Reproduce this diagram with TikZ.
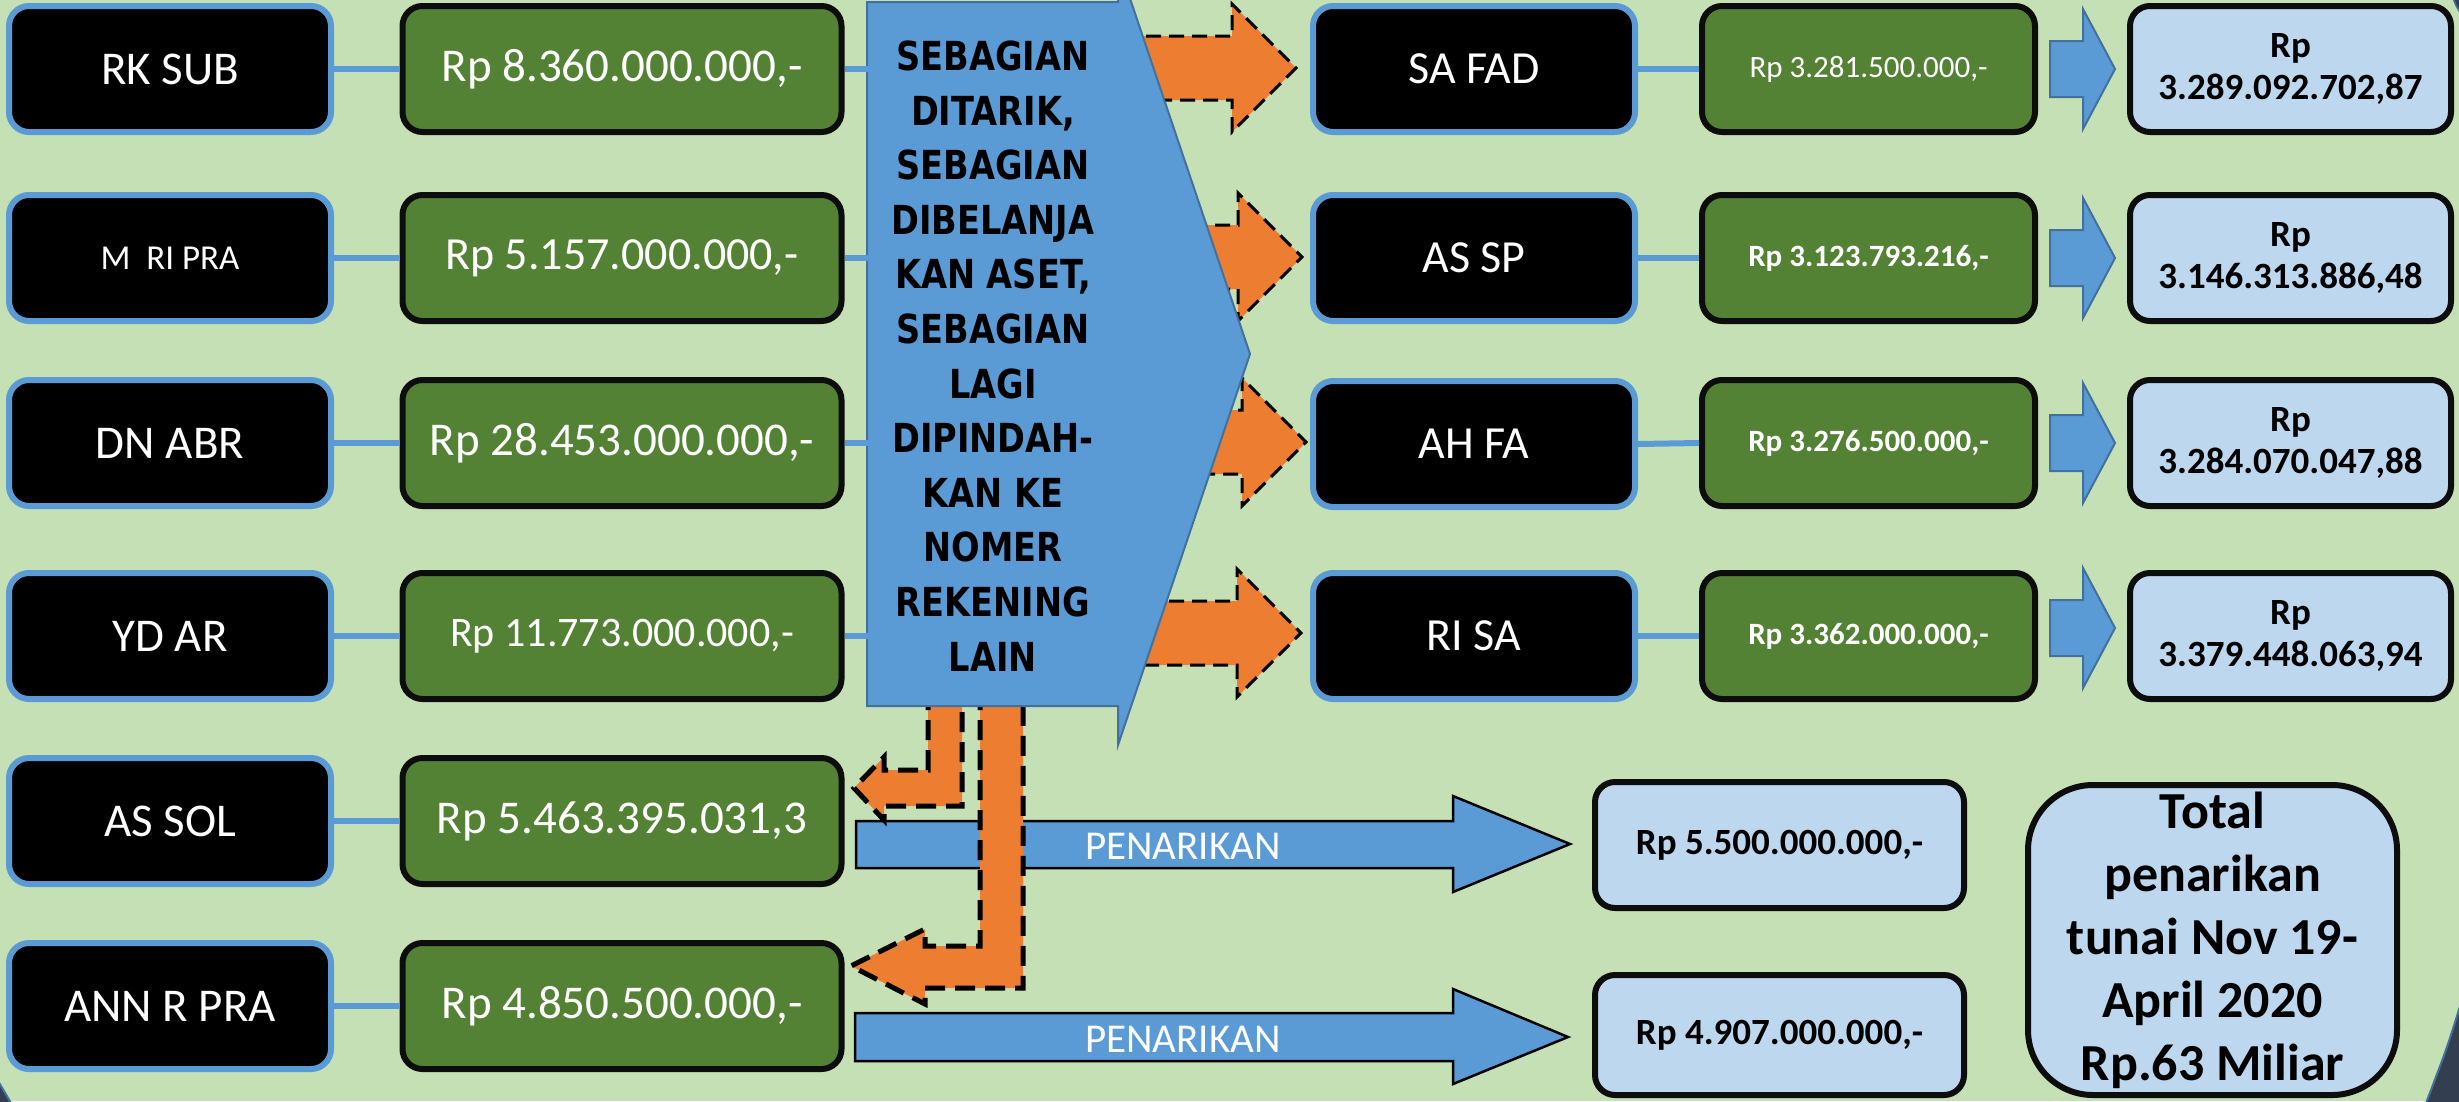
\documentclass[tikz,border=0pt]{standalone}
\usepackage{fontspec}
\setmainfont{Carlito}
\newfontfamily\chevfont{DejaVu Sans}[FakeStretch=0.84]
\definecolor{bg}{HTML}{C5E0B4}
\definecolor{dgreen}{HTML}{548235}
\definecolor{bblue}{HTML}{5B9BD5}
\definecolor{lblue}{HTML}{BDD7EE}
\definecolor{oran}{HTML}{ED7D31}
\definecolor{navy}{HTML}{333F50}
\definecolor{edgeblue}{HTML}{41719C}
\definecolor{nearblack}{HTML}{0D0D0D}
\newcommand\OrArrow[4]{% x0, xhead, xtip, yc
  \filldraw[orarrow] (#1,#4-32) -- (#2,#4-32) -- (#2,#4-64) -- (#3,#4) -- (#2,#4+64) -- (#2,#4+32) -- (#1,#4+32) -- cycle;}
\newcommand\BlArrow[4]{% x0, xhead, xtip, yc
  \filldraw[smallarrow] (#1,#4-28) -- (#2,#4-28) -- (#2,#4-60) -- (#3,#4) -- (#2,#4+60) -- (#2,#4+28) -- (#1,#4+28) -- cycle;}
\tikzset{
  namebox/.style={rectangle, rounded corners=20pt, fill=black, draw=bblue, line width=6pt,
    minimum width=322pt, minimum height=126pt, inner sep=0pt, text=white, font=\fontsize{47}{56}\selectfont},
  amtbox/.style={rectangle, rounded corners=20pt, fill=dgreen, draw=nearblack, line width=6pt,
    minimum width=439pt, minimum height=126pt, inner sep=0pt, text=white, font=\fontsize{47}{56}\selectfont},
  ramtbox/.style={amtbox, minimum width=333pt},
  resbox/.style={rectangle, rounded corners=20pt, fill=lblue, draw=nearblack, line width=6pt,
    minimum width=321pt, minimum height=126pt, inner sep=0pt, text=black, align=center,
    font=\bfseries\fontsize{37}{42}\selectfont},
  wbox/.style={resbox, minimum width=369pt},
  link/.style={draw=bblue, line width=6pt},
  orarrow/.style={fill=oran, draw=black, line width=3pt, dash pattern=on 15pt off 8pt},
  bentarrow/.style={fill=oran, draw=black, line width=5pt, dash pattern=on 20pt off 10pt},
  smallarrow/.style={fill=bblue, draw=edgeblue, line width=2pt},
  bigarrow/.style={fill=bblue, draw=black, line width=2.5pt},
  arrowlabel/.style={text=white, inner sep=0pt, font=\fontsize{41}{49}\selectfont}
}
\begin{document}
\begin{tikzpicture}[x=1pt,y=-1pt]
\useasboundingbox (0,0) rectangle (2459,1101);
\clip (0,0) rectangle (2459,1101);
\fill[bg] (0,0) rectangle (2459,1101);
% slide corners
\filldraw[fill=navy, draw=edgeblue, line width=2pt] (2461,1003) .. controls (2447,1048) .. (2426,1103) -- (2461,1103) -- cycle;
\filldraw[fill=navy, draw=edgeblue, line width=2pt] (-2,1081) .. controls (4,1091) .. (11,1103) -- (-2,1103) -- cycle;
\filldraw[fill=navy, draw=edgeblue, line width=1.5pt] (2453,-2) .. controls (2456,6) .. (2461,14) -- (2461,-2) -- cycle;

% left column
\node[namebox] (k1) at (170,69) {RK SUB};
\node[namebox, font=\fontsize{35}{42}\selectfont] (k2) at (170,258) {M\ \ RI PRA};
\node[namebox] (k3) at (170,443) {DN ABR};
\node[namebox] (k4) at (170,636) {YD AR};
\node[namebox] (k5) at (170,821) {AS SOL};
\node[namebox] (k6) at (170,1006) {ANN R PRA};

\node[amtbox] (g1) at (622,69) {Rp 8.360.000.000,-};
\node[amtbox, font=\fontsize{46}{55}\selectfont] (g2) at (622,258) {Rp 5.157.000.000,-};
\node[amtbox] (g3) at (622,443) {Rp 28.453.000.000,-};
\node[amtbox, font=\fontsize{42}{50}\selectfont] (g4) at (622,636) {Rp 11.773.000.000,-};
\node[amtbox] (g5) at (622,821) {Rp 5.463.395.031,3};
\node[amtbox] (g6) at (622,1006) {Rp 4.850.500.000,-};

\foreach \i in {1,...,6} { \draw[link] (k\i.east) -- (g\i.west); }

% withdrawal arrows
\filldraw[bigarrow] (856,821) -- (1453,821) -- (1453,796) -- (1570,844) -- (1453,892) -- (1453,868) -- (856,868) -- cycle;
\filldraw[bigarrow] (855,1013) -- (1453,1013) -- (1453,989) -- (1568,1037) -- (1453,1084) -- (1453,1061) -- (855,1061) -- cycle;
\node[arrowlabel] (p1) at (1183,846) {PENARIKAN};
\node[arrowlabel] (p2) at (1183,1039) {PENARIKAN};

% orange arrows to the right
\OrArrow{1100}{1232}{1296}{68}
\OrArrow{1100}{1238}{1302}{257}
\OrArrow{1100}{1242}{1306}{442}
\OrArrow{1100}{1237}{1301}{633}

% orange bent arrows
\filldraw[bentarrow] (928,690) -- (928,770) -- (884,770) -- (884,757) -- (854,788) -- (884,820) -- (884,806) -- (962,806) -- (962,690);
\filldraw[bentarrow] (980,690) -- (980,946) -- (925,946) -- (925,929) -- (851,966) -- (925,1004) -- (925,988) -- (1023,988) -- (1023,690);

% central chevron
\filldraw[fill=bblue, draw=edgeblue, line width=2pt] (867,2) -- (1118,2) -- (1118,-37) -- (1250,354) -- (1118,745) -- (1118,706) -- (867,706) -- cycle;
\node[rectangle, minimum width=251pt, minimum height=704pt, inner sep=0pt, outer sep=0pt, align=center,
  font=\chevfont\bfseries\fontsize{40}{54.6}\selectfont] (chev) at (993,356)
  {SEBAGIAN\\DITARIK,\\SEBAGIAN\\DIBELANJA\\KAN ASET,\\SEBAGIAN\\LAGI\\DIPINDAH-\\KAN KE\\NOMER\\REKENING\\LAIN};
\foreach \i in {1,...,4} { \draw[link] (g\i.east) -- (g\i.east -| chev.west); }

% right column
\node[namebox, font=\fontsize{46}{55}\selectfont] (k7) at (1474,69) {SA FAD};
\node[namebox, font=\fontsize{46}{55}\selectfont] (k8) at (1474,258) {AS SP};
\node[namebox, font=\fontsize{46}{55}\selectfont] (k9) at (1474,444) {AH FA};
\node[namebox, font=\fontsize{46}{55}\selectfont] (k10) at (1474,636) {RI SA};

\node[ramtbox, font=\fontsize{31}{37}\selectfont] (g7) at (1868.5,69) {Rp 3.281.500.000,-};
\node[ramtbox, font=\bfseries\fontsize{31}{37}\selectfont] (g8) at (1868.5,258) {Rp 3.123.793.216,-};
\node[ramtbox, font=\bfseries\fontsize{31}{37}\selectfont] (g9) at (1868.5,443) {Rp 3.276.500.000,-};
\node[ramtbox, font=\bfseries\fontsize{31}{37}\selectfont] (g10) at (1868.5,636) {Rp 3.362.000.000,-};

\foreach \i in {7,...,10} { \draw[link] (k\i.east) -- (g\i.west); }

\BlArrow{2050}{2083}{2115}{69}
\BlArrow{2050}{2083}{2115}{258}
\BlArrow{2050}{2083}{2115}{443}
\BlArrow{2050}{2083}{2115}{628}

\node[resbox] (r7) at (2290.5,69) {Rp\\3.289.092.702,87};
\node[resbox] (r8) at (2290.5,258) {Rp\\3.146.313.886,48};
\node[resbox] (r9) at (2290.5,443) {Rp\\3.284.070.047,88};
\node[resbox] (r10) at (2290.5,636) {Rp\\3.379.448.063,94};

% bottom boxes
\node[wbox] (w1) at (1779.5,845) {Rp 5.500.000.000,-};
\node[wbox, minimum height=120pt] (w2) at (1779.5,1035) {Rp 4.907.000.000,-};
\node[wbox, minimum height=310pt, rounded corners=65pt, font=\bfseries\fontsize{52}{63}\selectfont] (tot) at (2212.5,940)
  {Total\\penarikan\\tunai Nov 19-\\April 2020\\Rp.63 Miliar};
\end{tikzpicture}
\end{document}
